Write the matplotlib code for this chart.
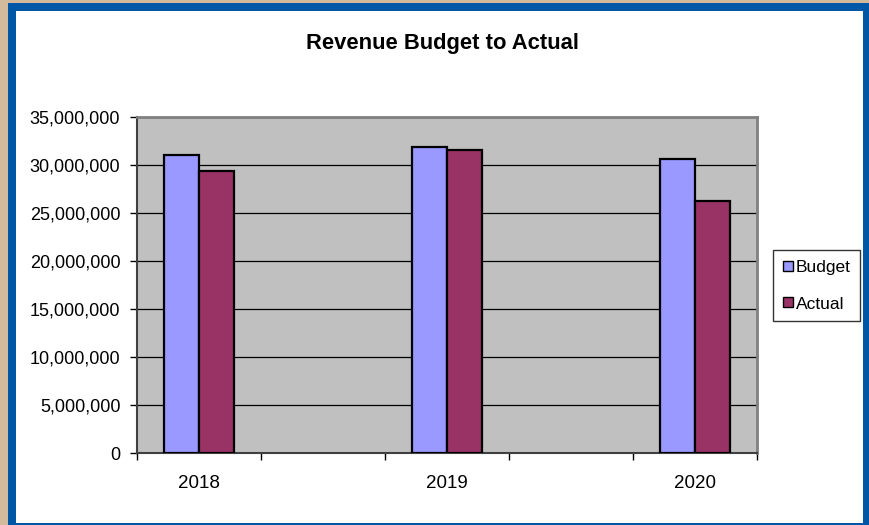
import matplotlib
matplotlib.use("Agg")
import matplotlib.pyplot as plt
from matplotlib.patches import Rectangle
from matplotlib.lines import Line2D
import numpy as np

# ---- data ----
categories = ["2018", "", "2019", "", "2020"]
budget = [31050000, None, 31900000, None, 30650000]
actual = [29400000, None, 31560000, None, 26200000]
series_names = ["Budget", "Actual"]
y_ticks = [0, 5000000, 10000000, 15000000, 20000000, 25000000, 30000000, 35000000]

plt.rcParams['font.family'] = ['Liberation Sans', 'DejaVu Sans']
fs = 13.5
tfs = 15.8

W, H = 869, 525
fig = plt.figure(figsize=(W / 100, H / 100), dpi=100)
fig.patch.set_facecolor("white")

def fx(px):
    return px / W

def fy(py):
    return 1 - py / H

# outer tan strip and blue border
tan = "#D3BA9C"
blue = "#0057A6"
fig.patches.append(Rectangle((0, 0), 1, 1, transform=fig.transFigure, facecolor=tan, edgecolor="none", zorder=-3))
fig.patches.append(Rectangle((fx(8), 0), 1 - fx(8), fy(2.5), transform=fig.transFigure, facecolor=blue, edgecolor="none", zorder=-2))
fig.patches.append(Rectangle((fx(16), fy(522.5)), fx(863) - fx(16), fy(11) - fy(522.5), transform=fig.transFigure, facecolor="white", edgecolor="none", zorder=-1))

ax = fig.add_axes([fx(137), fy(453), fx(757) - fx(137), fy(117) - fy(453)])
ax.set_facecolor("#C0C0C0")

x = np.arange(len(categories))
bw = 0.282
bx, bh = [], []
ax_, ah = [], []
for i, (b, a) in enumerate(zip(budget, actual)):
    if b is not None:
        bx.append(x[i] - bw / 2); bh.append(b)
    if a is not None:
        ax_.append(x[i] + bw / 2); ah.append(a)

ax.bar(bx, bh, width=bw, color="#9999FF", edgecolor="black", linewidth=1.6, zorder=3)
ax.bar(ax_, ah, width=bw, color="#993366", edgecolor="black", linewidth=1.6, zorder=3)

ax.set_xlim(-0.5, len(categories) - 0.5)
ax.set_ylim(0, 35000000)
ax.set_yticks(y_ticks)
ax.set_yticklabels([f"{v:,}" for v in y_ticks], fontsize=13)
ax.yaxis.grid(True, color="black", linewidth=0.9, zorder=1)
ax.set_axisbelow(True)

ax.set_xticks(x)
ax.set_xticklabels(categories, fontsize=fs)
ax.tick_params(axis="x", which="major", length=0, pad=16)
ax.set_xticks(np.arange(-0.5, len(categories), 1.0), minor=True)
ax.tick_params(axis="x", which="minor", length=5, width=1, color="black", direction="out")
ax.tick_params(axis="y", length=5, width=1, color="black", direction="out", pad=7)

for s in ["top", "right"]:
    ax.spines[s].set_color("#808080")
    ax.spines[s].set_linewidth(2)
for s in ["left", "bottom"]:
    ax.spines[s].set_color("#404040")
    ax.spines[s].set_linewidth(1.5)

fig.text(fx(442.5), fy(44), "Revenue Budget to Actual", ha="center", va="center",
         fontsize=tfs, fontweight="bold")

handles = [
    Line2D([0], [0], marker="s", linestyle="none", markersize=7, markerfacecolor="#9999FF", markeredgecolor="black", markeredgewidth=1),
    Line2D([0], [0], marker="s", linestyle="none", markersize=7, markerfacecolor="#993366", markeredgecolor="black", markeredgewidth=1),
]
leg = fig.legend(handles, series_names, loc="upper left", bbox_to_anchor=(fx(773), fy(250)),
                 fontsize=12.5, frameon=True, fancybox=False, shadow=False, edgecolor="black",
                 handlelength=0.6, handletextpad=0.15, borderpad=0.55, labelspacing=1.25,
                 borderaxespad=0)
leg.get_frame().set_linewidth(1)

fig.savefig("out.png", dpi=100)
